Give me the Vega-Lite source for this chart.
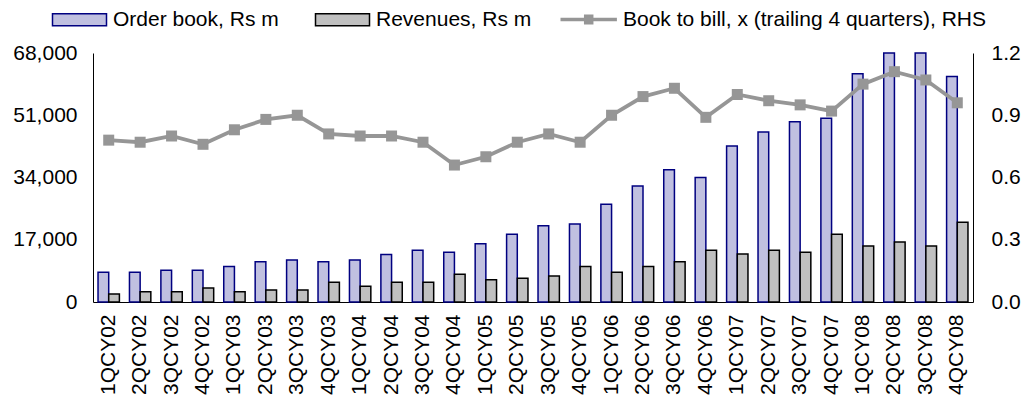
{
  "$schema": "https://vega.github.io/schema/vega-lite/v6.json",
  "width": 880,
  "height": 249,
  "autosize": "none",
  "padding": {"left": 93, "top": 53, "right": 49, "bottom": 97},
  "config": {
    "view": {"stroke": null},
    "font": "Liberation Sans",
    "axis": {
      "grid": false,
      "ticks": false,
      "tickSize": 0,
      "domainColor": "#000000",
      "domainWidth": 1,
      "labelFontSize": 21,
      "labelColor": "#000000",
      "labelFont": "Liberation Sans",
      "title": null
    },
    "legend": {
      "labelFontSize": 21,
      "labelColor": "#000000",
      "labelFont": "Liberation Sans",
      "labelLimit": 600,
      "padding": 0,
      "title": null
    }
  },
  "data": {
    "values": [
      {"q": "1QCY02", "order": 8100, "rev": 2200, "btb": 0.78},
      {"q": "2QCY02", "order": 8100, "rev": 2800, "btb": 0.77},
      {"q": "3QCY02", "order": 8700, "rev": 2800, "btb": 0.80},
      {"q": "4QCY02", "order": 8700, "rev": 3800, "btb": 0.76},
      {"q": "1QCY03", "order": 9700, "rev": 2800, "btb": 0.83},
      {"q": "2QCY03", "order": 11000, "rev": 3300, "btb": 0.88},
      {"q": "3QCY03", "order": 11500, "rev": 3300, "btb": 0.90},
      {"q": "4QCY03", "order": 11000, "rev": 5400, "btb": 0.81},
      {"q": "1QCY04", "order": 11500, "rev": 4300, "btb": 0.80},
      {"q": "2QCY04", "order": 13000, "rev": 5400, "btb": 0.80},
      {"q": "3QCY04", "order": 14100, "rev": 5400, "btb": 0.77},
      {"q": "4QCY04", "order": 13600, "rev": 7600, "btb": 0.66},
      {"q": "1QCY05", "order": 15900, "rev": 6100, "btb": 0.70},
      {"q": "2QCY05", "order": 18500, "rev": 6500, "btb": 0.77},
      {"q": "3QCY05", "order": 20800, "rev": 7100, "btb": 0.81},
      {"q": "4QCY05", "order": 21300, "rev": 9700, "btb": 0.77},
      {"q": "1QCY06", "order": 26700, "rev": 8100, "btb": 0.90},
      {"q": "2QCY06", "order": 31700, "rev": 9700, "btb": 0.99},
      {"q": "3QCY06", "order": 36100, "rev": 11000, "btb": 1.03},
      {"q": "4QCY06", "order": 34000, "rev": 14100, "btb": 0.89},
      {"q": "1QCY07", "order": 42600, "rev": 13100, "btb": 1.00},
      {"q": "2QCY07", "order": 46400, "rev": 14100, "btb": 0.97},
      {"q": "3QCY07", "order": 49200, "rev": 13600, "btb": 0.95},
      {"q": "4QCY07", "order": 50200, "rev": 18500, "btb": 0.92},
      {"q": "1QCY08", "order": 62300, "rev": 15300, "btb": 1.05},
      {"q": "2QCY08", "order": 68000, "rev": 16400, "btb": 1.11},
      {"q": "3QCY08", "order": 68000, "rev": 15300, "btb": 1.07},
      {"q": "4QCY08", "order": 61600, "rev": 21800, "btb": 0.96}
    ]
  },
  "encoding": {
    "x": {
      "field": "q",
      "type": "nominal",
      "sort": null,
      "scale": {"paddingInner": 0.32, "paddingOuter": 0.16},
      "axis": {"labelAngle": -90, "labelPadding": 12, "title": null}
    }
  },
  "layer": [
    {
      "transform": [{"fold": ["order", "rev"], "as": ["series", "value"]}],
      "mark": {"type": "bar", "strokeWidth": 1.5},
      "encoding": {
        "xOffset": {"field": "series", "type": "nominal", "sort": ["order", "rev"], "scale": {"paddingInner": 0, "paddingOuter": 0}},
        "y": {
          "field": "value",
          "type": "quantitative",
          "scale": {"domain": [0, 68000], "nice": false},
          "axis": {"orient": "left", "values": [0, 17000, 34000, 51000, 68000], "format": ",.0f", "labelPadding": 16, "title": null}
        },
        "fill": {
          "field": "series",
          "type": "nominal",
          "scale": {"domain": ["order", "rev"], "range": ["#c0c0e0", "#c0c0c0"]},
          "legend": {
            "orient": "none",
            "direction": "horizontal",
            "legendX": -51,
            "legendY": -44,
            "symbolType": "M0,-1H9V1H0Z",
            "symbolSize": 144,
            "symbolStrokeWidth": 1.5,
            "labelOffset": 50,
            "columnPadding": 26,
            "labelExpr": "datum.value == 'order' ? 'Order book, Rs m' : 'Revenues, Rs m'"
          }
        },
        "stroke": {
          "field": "series",
          "type": "nominal",
          "scale": {"domain": ["order", "rev"], "range": ["#000080", "#000000"]}
        }
      }
    },
    {
      "mark": {"type": "line", "strokeWidth": 3.8, "point": {"shape": "square", "size": 121, "filled": true}},
      "encoding": {
        "y": {
          "field": "btb",
          "type": "quantitative",
          "scale": {"domain": [0, 1.2], "nice": false},
          "axis": {"orient": "right", "values": [0, 0.3, 0.6, 0.9, 1.2], "format": ".1f", "labelPadding": 18, "title": null}
        },
        "color": {
          "datum": "btb",
          "type": "nominal",
          "scale": {"domain": ["btb"], "range": ["#969696"]},
          "legend": {
            "orient": "none",
            "legendX": 457,
            "legendY": -44,
            "symbolType": "M0,0H9.4M4.2,-0.55H5.2V0.55H4.2Z",
            "symbolSize": 144,
            "symbolStrokeWidth": 3.5,
            "labelOffset": 52,
            "labelExpr": "'Book to bill, x (trailing 4 quarters), RHS'",
            "encode": {"symbols": {"update": {"fill": {"value": "#969696"}, "stroke": {"value": "#969696"}, "strokeWidth": {"value": 3.5}, "opacity": {"value": 1}}}}
          }
        }
      }
    }
  ],
  "resolve": {"scale": {"y": "independent"}}
}
